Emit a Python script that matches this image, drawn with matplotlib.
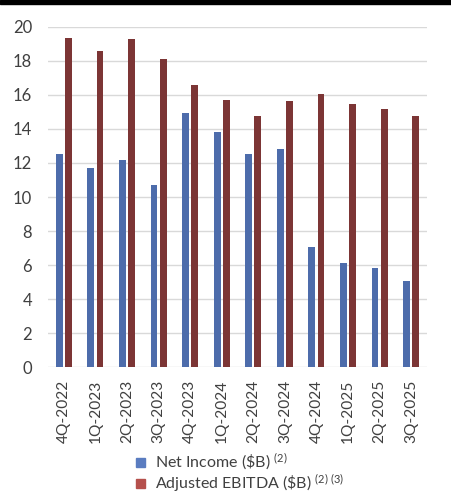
import matplotlib
matplotlib.use("Agg")
import matplotlib.pyplot as plt
import numpy as np
from matplotlib.patches import Rectangle

quarters = ["4Q-2022", "1Q-2023", "2Q-2023", "3Q-2023", "4Q-2023", "1Q-2024",
            "2Q-2024", "3Q-2024", "4Q-2024", "1Q-2025", "2Q-2025", "3Q-2025"]
net_income = [12.5, 11.7, 12.15, 10.7, 14.95, 13.85, 12.55, 12.85, 7.05, 6.1, 5.85, 5.05]
adj_ebitda = [19.35, 18.6, 19.3, 18.1, 16.6, 15.7, 14.75, 15.65, 16.05, 15.45, 15.2, 14.75]
yticks = [0, 2, 4, 6, 8, 10, 12, 14, 16, 18, 20]
legend_labels = [r"Net Income (\$B) $^{(2)}$", r"Adjusted EBITDA (\$B) $^{(2)\ (3)}$"]

plt.rcParams['font.family'] = ['Lato', 'DejaVu Sans']
plt.rcParams['mathtext.fontset'] = 'custom'
plt.rcParams['mathtext.rm'] = 'Lato'
plt.rcParams['mathtext.it'] = 'Lato'
plt.rcParams['mathtext.bf'] = 'Lato'

W, H = 451, 500
fig = plt.figure(figsize=(W / 100, H / 100), dpi=100)
fig.patch.set_facecolor('white')
ax = fig.add_axes([48 / W, 1 - 367 / H, 379 / W, 340 / H])

x = np.arange(len(quarters))
bw = 0.215
blue = '#4d6cab'
red = '#7c3535'
ax.bar(x - 0.145, net_income, width=bw, color=blue, zorder=3)
ax.bar(x + 0.145, adj_ebitda, width=bw, color=red, zorder=3)

ax.set_xlim(-0.5, len(quarters) - 0.5)
ax.set_ylim(0, 20)
ax.set_yticks(yticks)
ax.set_yticklabels([str(v) for v in yticks])
ax.set_xticks(x)
ax.set_xticklabels(quarters, rotation=90)
ax.tick_params(axis='y', length=0, pad=11.5, labelsize=12, labelcolor='#404040')
ax.tick_params(axis='x', length=0, pad=9, labelsize=11.2, labelcolor='#404040')
ax.yaxis.grid(True, color='#d9d9d9', linewidth=1, zorder=0)
ax.set_axisbelow(True)
for s in ax.spines.values():
    s.set_visible(False)

# black band at top
fig.patches.append(Rectangle((0, 1 - 4 / H), 1, 4 / H, transform=fig.transFigure,
                             color='black', zorder=10))

# manual legend
lcolors = ['#5a7cc0', '#b5504c']
rows_y = [462, 483]
for lab, c, yy in zip(legend_labels, lcolors, rows_y):
    fig.patches.append(Rectangle((136 / W, 1 - (yy + 4.5) / H), 9 / W, 9 / H,
                                 transform=fig.transFigure, color=c))
    fig.text(155 / W, 1 - yy / H, lab, fontsize=11.5, color='#404040',
             va='center', ha='left')

fig.savefig('out.png', dpi=100)
